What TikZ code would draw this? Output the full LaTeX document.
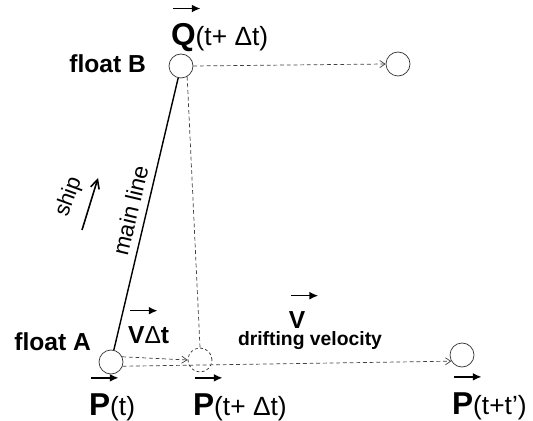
\documentclass[tikz,border=0pt]{standalone}
\usepackage{fontspec}
\setmainfont{Liberation Sans}
\usetikzlibrary{arrows.meta}
\newsavebox{\arrbox}
\newlength{\arrlen}
\newcommand{\arrvec}[1]{\sbox{\arrbox}{\bfseries #1}\setlength{\arrlen}{\ht\arrbox}\addtolength{\arrlen}{6.5pt}%
	\rlap{\hspace{0.8pt}\raisebox{\arrlen}{\tikz\draw[line width=0.9pt,-{Latex[length=5pt,width=4.5pt]}] (0,0)--(15.5pt,0);}}\usebox{\arrbox}}
\newcommand{\fsz}[1]{\fontsize{#1}{#1}\selectfont}

\begin{document}
\begin{tikzpicture}[every node/.style={inner sep=1pt},
	buoy/.style={circle, draw=black!80, thin, minimum size=0.48cm, inner sep=0pt},
	ghost/.style={buoy, dash pattern=on 1.6pt off 1.4pt},
	drift/.style={draw=black!75, thin, dash pattern=on 2.2pt off 1.6pt, -{Straight Barb[length=3pt,width=4pt]}},
	tag/.style={font=\bfseries\fsz{14}}]
	\useasboundingbox (0,0) rectangle (10.66,8.4);
	\node[buoy] (fA) at (2.22,1.16) {};
	\node[buoy] (fB) at (3.62,7.08) {};
	\node[ghost] (pD) at (4.0,1.2) {};
	\node[buoy] (qT) at (7.96,7.12) {};
	\node[buoy] (pT) at (9.24,1.3) {};
	\node[tag, anchor=base east] (lB) at (2.96,6.94) {float B};
	\node[tag, anchor=base east] (lA) at (1.86,1.40) {float A};
	\node[anchor=base west, font=\fsz{15}] (lQ) at (3.38,7.48) {{\fsz{18}\arrvec{Q}}(t+ Δt)};
	\node[anchor=base west, font=\fsz{15}] (lP1) at (1.74,0.10) {{\fsz{18}\arrvec{P}}(t)};
	\node[anchor=base west, font=\fsz{15}] (lP2) at (3.82,0.10) {{\fsz{18}\arrvec{P}}(t+ Δt)};
	\node[anchor=base west, font=\fsz{15}] (lP3) at (9.0,0.12) {{\fsz{18}\arrvec{P}}(t+t')};
	\node[tag, anchor=base west] (lVd) at (2.52,1.54) {\arrvec{V}{\mdseries Δ}t};
	\node[tag, anchor=base] (lV) at (5.94,1.84) {\arrvec{V}};
	\node[anchor=base, font=\bfseries\fsz{11}] (lv) at (6.20,1.50) {drifting velocity};
	\node[rotate=70, font=\fsz{12.5}] (ship) at (1.38,4.46) {ship};
	\coordinate (s0) at (1.64,3.80);
	\coordinate (s1) at (1.96,4.84);
	\draw[line width=0.9pt, -{Straight Barb[length=5pt,width=5pt]}] (s0)--(s1);
	\draw[line width=0.8pt] (fA)-- node[sloped, above=3pt, font=\fsz{13}] {main line} (fB);
	\draw[drift] (fB.east)--(qT.west);
	\draw[drift] (fA.25)--(pD.west);
	\draw[drift] (fA.-20)--(pT.210);
	\draw[drift, -] (fB.-60)--(pD.north);
\end{tikzpicture}
\end{document}
